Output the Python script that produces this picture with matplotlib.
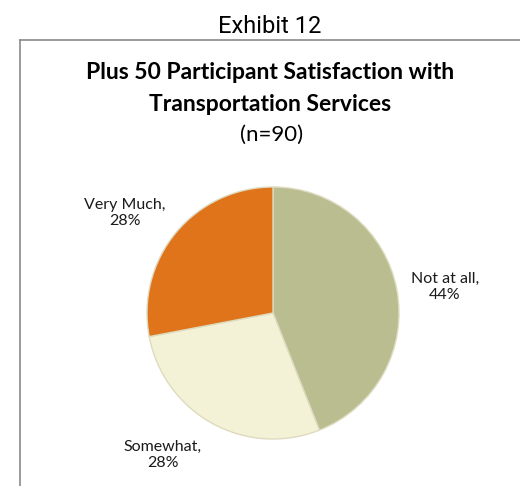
import matplotlib
matplotlib.use("Agg")
import matplotlib.pyplot as plt
from matplotlib.lines import Line2D

# data
categories = ['Not at all', 'Somewhat', 'Very Much']
percents = [44, 28, 28]
colors = ['#B9BD8F', '#F3F2D6', '#E0741B']
title_lines = ['Plus 50 Participant Satisfaction with', 'Transportation Services']

W, H = 520, 486
fig = plt.figure(figsize=(W / 100, H / 100), dpi=100)
ax = fig.add_axes([0, 0, 1, 1])

# pie in pixel-like coords (y measured from bottom)
wedges, _ = ax.pie(percents, colors=colors, startangle=90, counterclock=False,
                   center=(273, H - 313), radius=126, frame=True,
                   wedgeprops=dict(edgecolor='#DEDBBF', linewidth=1.0))
ax.set_xlim(0, W)
ax.set_ylim(0, H)
ax.set_aspect('equal')
ax.axis('off')

label_font = ['Lato', 'DejaVu Sans']
label_pos = [(445, 287), (163, 455), (125, 213)]
for cat, pct, (x, y) in zip(categories, percents, label_pos):
    ax.text(x, H - y, f"{cat},\n{pct}%", ha='center', va='center',
            fontsize=11.5, family=label_font, color='#1a1a1a', linespacing=1.2)

# titles (baselines placed individually)
fig.text(270 / W, 1 - 33 / H, 'Exhibit 12', ha='center', va='baseline',
         fontsize=17, family=['Roboto', 'DejaVu Sans'])
for line, base in zip(title_lines, [79, 111]):
    fig.text(270 / W, 1 - base / H, line, ha='center', va='baseline',
             fontsize=16.5, fontweight='bold', family=label_font)
fig.text(272 / W, 1 - 141 / H, '(n=90)', ha='center', va='baseline',
         fontsize=16, family=label_font)

# border of the chart box (top and left)
fig.add_artist(Line2D([20 / W, 20 / W], [0, 1 - 40 / H], transform=fig.transFigure,
                      color='#8A8A8A', linewidth=1.2))
fig.add_artist(Line2D([20 / W, 1], [1 - 40 / H, 1 - 40 / H], transform=fig.transFigure,
                      color='#8A8A8A', linewidth=1.2))

fig.savefig('out.png', dpi=100, facecolor='white')
